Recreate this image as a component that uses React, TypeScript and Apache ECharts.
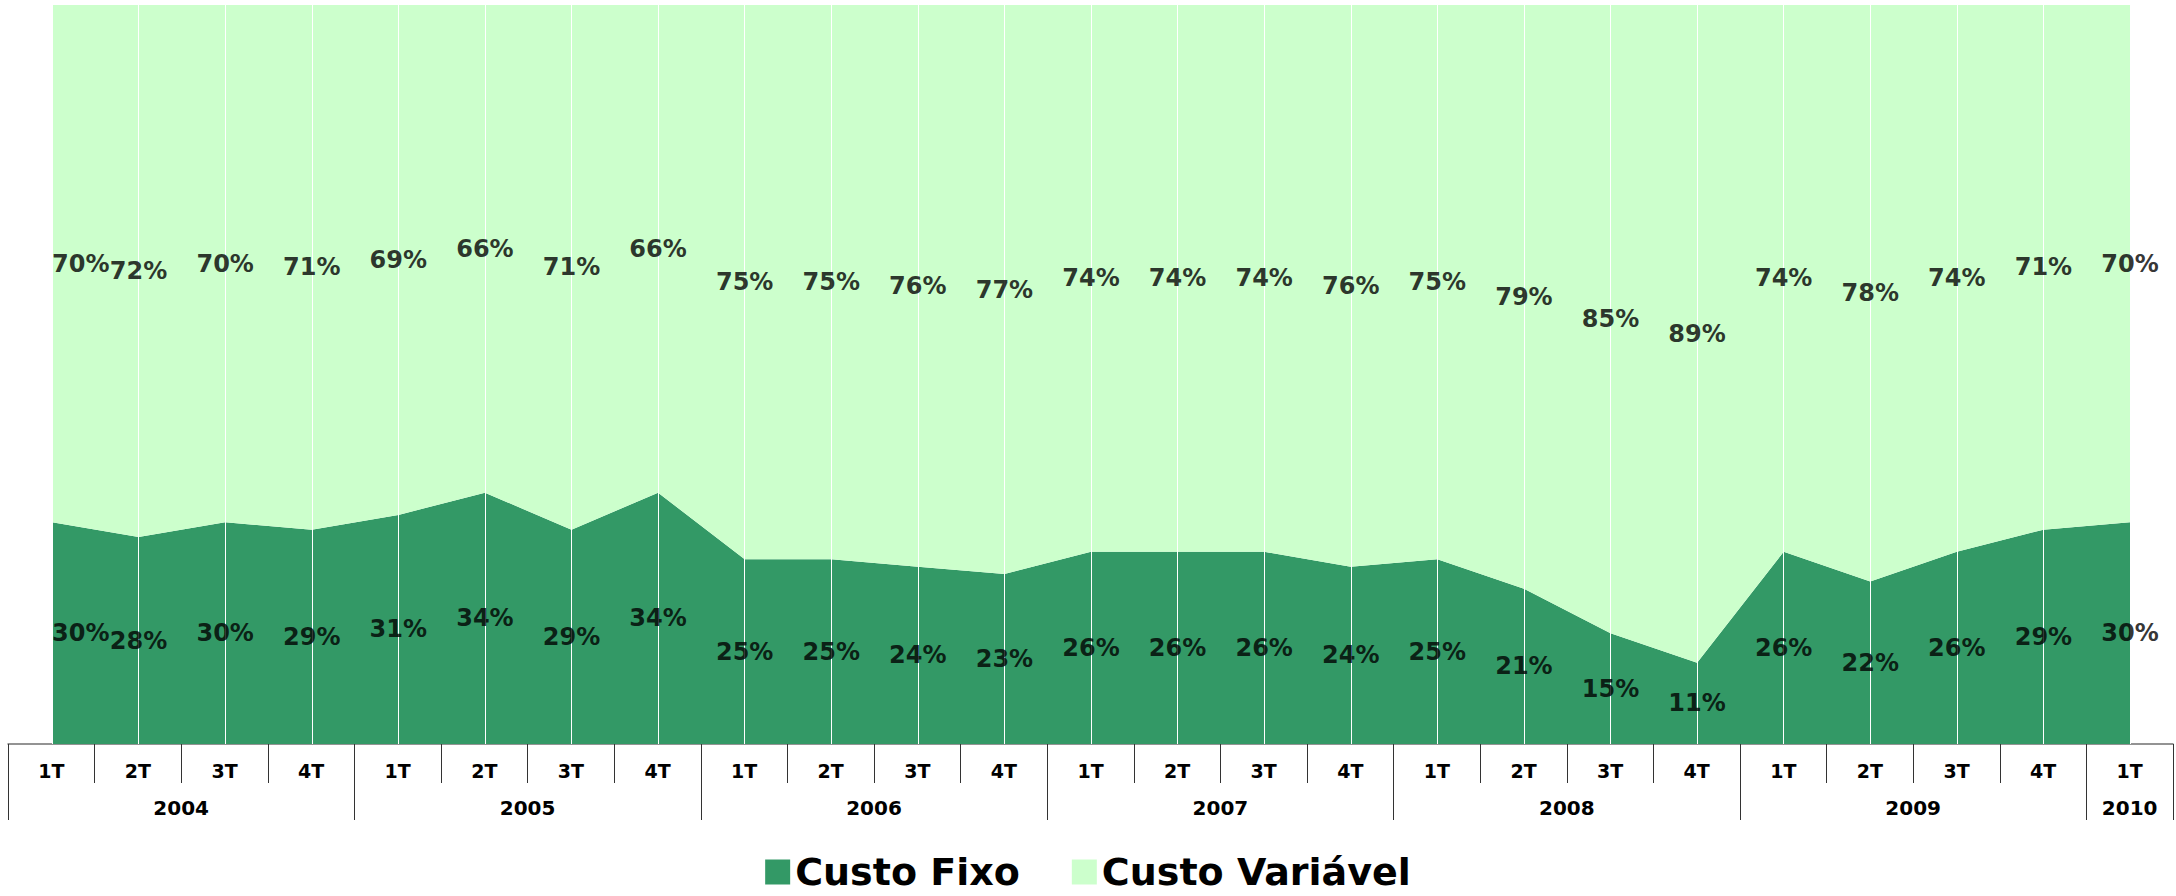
import React, { useEffect, useRef } from 'react';
import * as echarts from 'echarts';

const quarters = ['1T','2T','3T','4T','1T','2T','3T','4T','1T','2T','3T','4T','1T','2T','3T','4T','1T','2T','3T','4T','1T','2T','3T','4T','1T'];
const years = ['2004','2005','2006','2007','2008','2009','2010'];
const quartersPerYear = [4, 4, 4, 4, 4, 4, 1];
const custoFixo = [30, 28, 30, 29, 31, 34, 29, 34, 25, 25, 24, 23, 26, 26, 26, 24, 25, 21, 15, 11, 26, 22, 26, 29, 30];
const custoVariavel = [70, 72, 70, 71, 69, 66, 71, 66, 75, 75, 76, 77, 74, 74, 74, 76, 75, 79, 85, 89, 74, 78, 74, 71, 70];

const FONT = 'DejaVu Sans';
const DARK = '#339966';
const LIGHT = '#CCFFCC';

export default function App() {
  const ref = useRef<HTMLDivElement>(null);
  useEffect(() => {
    document.body.style.margin = '0';
    if (!ref.current) return;
    const chart = echarts.init(ref.current, undefined, { renderer: 'svg' });

    const n = quarters.length;
    const halfCount = 2 * n + 1;
    const yearLabels: string[] = new Array(halfCount).fill('');
    const yearBounds = new Set<number>();
    let start = 0;
    years.forEach((y, i) => {
      yearBounds.add(2 * start);
      yearLabels[2 * start + quartersPerYear[i]] = y;
      start += quartersPerYear[i];
    });
    yearBounds.add(2 * start);
    const halfCats = yearLabels.map((_, i) => String(i));

    const labelStyle = {
      show: true,
      position: 'inside',
      color: '#000',
      fontFamily: FONT,
      fontWeight: 'bold',
      fontSize: 24,
    };

    const fixoMid = custoFixo.map((v, i) => ({
      value: [i, v / 2],
      label: i === 0 ? { align: 'left' } : undefined,
    }));
    const varMid = custoVariavel.map((v, i) => ({
      value: [i, custoFixo[i] + v / 2],
      label: i === 0 ? { align: 'left' } : undefined,
    }));

    chart.setOption({
      animation: false,
      grid: [
        { left: 52, right: 46, top: 5, bottom: 152 },
        { left: 8, right: 3, top: 5, bottom: 152 },
      ],
      legend: {
        data: ['Custo Fixo', 'Custo Variável'],
        left: 'center',
        top: 853,
        padding: 0,
        icon: 'rect',
        itemWidth: 25,
        itemHeight: 25,
        itemGap: 52,
        textStyle: { fontFamily: FONT, fontWeight: 'bold', fontSize: 38, color: '#000' },
      },
      xAxis: [
        {
          gridIndex: 0,
          type: 'category',
          boundaryGap: false,
          data: quarters.map((q, i) => q + '_' + i),
          axisLine: { show: false },
          axisTick: { show: false },
          axisLabel: { show: false },
          splitLine: { show: true, interval: 0, lineStyle: { color: '#ffffff', width: 1 } },
          z: 5,
        },
        {
          gridIndex: 1,
          type: 'category',
          position: 'bottom',
          boundaryGap: true,
          data: quarters,
          axisLine: { show: true, lineStyle: { color: '#707070', width: 1.5 } },
          axisTick: { show: true, interval: 0, length: 39, lineStyle: { color: '#333', width: 1 } },
          axisLabel: { interval: 0, margin: 17, fontFamily: FONT, fontWeight: 'bold', fontSize: 19, color: '#000' },
          splitLine: { show: false },
        },
        {
          gridIndex: 1,
          type: 'category',
          position: 'bottom',
          offset: 0,
          boundaryGap: false,
          data: halfCats,
          axisLine: { show: false },
          axisTick: {
            show: true,
            length: 76,
            interval: (idx: number) => yearBounds.has(idx),
            lineStyle: { color: '#333', width: 1 },
          },
          axisLabel: {
            interval: 0,
            margin: 54,
            formatter: (_v: string, idx: number) => yearLabels[idx],
            fontFamily: FONT,
            fontWeight: 'bold',
            fontSize: 20,
            color: '#000',
          },
          splitLine: { show: false },
        },
      ],
      yAxis: [
        { gridIndex: 0, type: 'value', min: 0, max: 100, show: false },
        { gridIndex: 1, type: 'value', min: 0, max: 100, show: false },
      ],
      series: [
        {
          name: 'Custo Fixo',
          type: 'line',
          stack: 'total',
          xAxisIndex: 0,
          yAxisIndex: 0,
          data: custoFixo,
          symbol: 'none',
          lineStyle: { width: 0 },
          itemStyle: { color: DARK },
          areaStyle: { color: DARK, opacity: 1 },
        },
        {
          name: 'Custo Variável',
          type: 'line',
          stack: 'total',
          xAxisIndex: 0,
          yAxisIndex: 0,
          data: custoVariavel,
          symbol: 'none',
          lineStyle: { width: 0 },
          itemStyle: { color: LIGHT },
          areaStyle: { color: LIGHT, opacity: 1 },
        },
        {
          name: 'fixoLabels',
          type: 'scatter',
          xAxisIndex: 0,
          yAxisIndex: 0,
          symbolSize: 0,
          data: fixoMid,
          z: 10,
          silent: true,
          label: { ...labelStyle, formatter: (p: any) => custoFixo[p.dataIndex] + '%' },
        },
        {
          name: 'varLabels',
          type: 'scatter',
          xAxisIndex: 0,
          yAxisIndex: 0,
          symbolSize: 0,
          data: varMid,
          z: 10,
          silent: true,
          label: { ...labelStyle, formatter: (p: any) => custoVariavel[p.dataIndex] + '%' },
        },
      ],
    });
    return () => chart.dispose();
  }, []);
  return <div ref={ref} style={{ width: 2176, height: 896 }} />;
}
